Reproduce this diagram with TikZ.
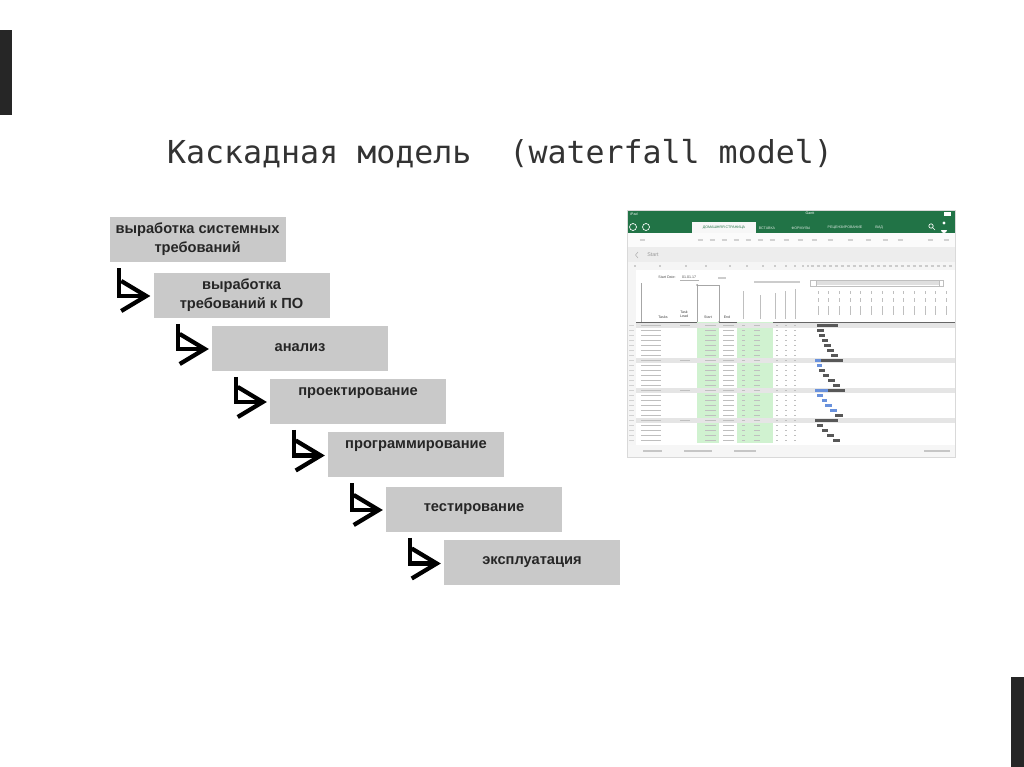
\documentclass[tikz,border=0pt]{standalone}
\usepackage{fontspec}
\setmainfont{Liberation Sans}
\newfontfamily\titlefont{DejaVu Sans Mono}
\usetikzlibrary{calc}

\definecolor{boxgray}{RGB}{201,201,201}
\definecolor{xlgreen}{RGB}{33,115,70}
\definecolor{cellgreen}{RGB}{208,242,208}
\definecolor{barblue}{RGB}{105,145,220}
\definecolor{bardark}{RGB}{88,88,88}

\tikzset{
  stage/.style={fill=boxgray, minimum width=132pt, minimum height=33.75pt, inner sep=0pt,
    align=center, text=black!85, font=\bfseries\fontsize{11}{14.25}\selectfont},
  stair/.style={line width=3.2pt, line join=miter},
  blur/.style={line width=0.9pt, gray!50},
  tiny/.style={inner sep=0pt, font=\fontsize{2.7}{3.2}\selectfont},
}

\begin{document}
\begin{tikzpicture}[x=0.75pt,y=-0.75pt]
\useasboundingbox (0,0) rectangle (1024,767);
% page edges
\fill[black!85] (0,30) rectangle (12,115);
\fill[black!85] (1011,677) rectangle (1024,767);

\node[font=\titlefont\fontsize{23.7}{28}\selectfont, text=black!80, inner sep=0pt] (title)
  at (500,154) {Каскадная модель~ (waterfall model)};

% stages
\node[stage] (b1) at (197.5,239.5) {выработка системных\\требований};
\node[stage] (b2) at (241.5,295) {выработка\\требований к ПО};
\node[stage] (b3) at (300,348) {анализ};
\node[stage] (b4) at (358,401) {проектирование\\\mbox{}};
\node[stage] (b5) at (416,454.5) {программирование\\\mbox{}};
\node[stage] (b6) at (474,509) {тестирование};
\node[stage] (b7) at (532,562.5) {эксплуатация};

% bent arrows
\foreach \i [count=\j from 2] in {1,...,6}{
  \coordinate (t\j) at ($(b\j.west)+(-7,1)$);
  \draw[stair] (b\i.south -| t\j) ++(-27,6) |- (t\j);
  \draw[stair] (t\j) ++(-25,-15) -- (t\j) -- ++(-25,15);
}

% spreadsheet screenshot
\fill[xlgreen] (627,210) rectangle (955,233);
\fill[gray!6] (692,222) rectangle (756,233);
\node[tiny, text=xlgreen] (home) at (724,228) {ДОМАШНЯЯ СТРАНИЦА};
\foreach \x/\t in {767/ВСТАВКА, 801/ФОРМУЛЫ, 845/РЕЦЕНЗИРОВАНИЕ, 879/ВИД}
  \node[tiny, text=white!85!xlgreen] (tab\x) at (\x,228) {\t};
\node[tiny, text=white] (ipad) at (634,214) {iPad};
\node[tiny, text=white] (gantt) at (810,213) {Gantt};
\draw[white, line width=0.5pt] (633,227) circle (3.5) (646,227) circle (3.5)
  (931,226) circle (2.2) (932.5,227.5) -- (935,230);
\fill[white] (944,212) rectangle (951,215.5);
\fill[white] (944,223) circle (1.6) (941,230) arc (180:0:3);
\fill[gray!3] (627,233) rectangle (955,247);
\foreach \x in {642,700,712,724,736,748,760,772,786,800,814,830,850,868,885,900,930,946}
  \draw[blur, gray!35] (\x-2.5,240) -- (\x+2.5,240);
\fill[gray!14] (627,247) rectangle (955,262);
\node[tiny, text=gray!80, font=\fontsize{4}{5}\selectfont] (sheet) at (653,255) {Start};
\draw[gray!60, line width=0.4pt] (638,252) -- (635.5,255) -- (638,258);
\fill[gray!8] (627,262) rectangle (955,270);
\foreach \x in {635,660,686,706,730,747,763,775,786,795,803,808}
  \draw[blur, gray!40] (\x-1,266) -- (\x+1,266);
\foreach \x in {812,818,...,952}
  \draw[blur, gray!40] (\x-1.5,266) -- (\x+1.5,266);
\fill[gray!8] (627,270) rectangle (636,445);

% sheet header
\node[tiny, text=black!70] (sdate) at (667,277) {Start Date:};
\node[tiny, text=black!70] (sval) at (689,277) {01.01.17};
\draw[gray!60, line width=0.3pt] (680,280) -- (699,280);
\draw[blur, gray!40] (718,278) -- (726,278);
\draw[gray!70, line width=0.4pt] (641,283) -- (641,322) (697,285) rectangle (719,322);
\fill[gray!80] (697,285) circle (1) (719,322) circle (1);
\draw[blur, gray!40] (754,282) -- (800,282);
\draw[gray!50, line width=0.4pt] (810,280) rectangle (943,286);
\fill[gray!25] (813,281) rectangle (940,285);
\fill[white] (810,280) rectangle (816,286);
\draw[gray!50, line width=0.4pt] (810,280) rectangle (816,286) (939,280) rectangle (943,286);
\node[tiny, text=black!75] (tasks) at (663,317) {Tasks};
\node[tiny, text=black!75, align=center] (lead) at (684,314) {Task\\Lead};
\node[tiny, text=black!75] (start) at (708,317) {Start};
\node[tiny, text=black!75] (end) at (727,317) {End};
\foreach \x/\l in {743/28, 760/24, 775/26, 785/28, 795/30}
  \draw[blur, line width=0.6pt] (\x,319) -- (\x,319-\l);
\foreach \x in {818,828.7,...,953}{
  \draw[blur, line width=0.6pt] (\x,291) -- (\x,294) (\x,298) -- (\x,302) (\x,306) -- (\x,315);
}
\draw[black!60, line width=0.6pt] (636,322) -- (955,322);

% rows
\fill[cellgreen] (697,322) rectangle (719,443);
\fill[cellgreen] (737,322) rectangle (773,443);
\foreach \r in {0,7,13,19}
  \fill[gray!20] (636,323+\r*5) rectangle (955,328+\r*5);
\foreach \r in {0,...,23}{
  \draw[blur, gray!35] (629,325.5+\r*5) -- (634,325.5+\r*5);
  \draw[blur] (641,325.5+\r*5) -- (661,325.5+\r*5);
  \draw[blur] (705,325.5+\r*5) -- (716,325.5+\r*5);
  \draw[blur] (723,325.5+\r*5) -- (734,325.5+\r*5);
  \draw[blur] (742,325.5+\r*5) -- (745,325.5+\r*5);
  \draw[blur] (754,325.5+\r*5) -- (760,325.5+\r*5);
  \draw[blur] (776,325.5+\r*5) -- (778,325.5+\r*5);
  \draw[blur] (785,325.5+\r*5) -- (787,325.5+\r*5);
  \draw[blur] (794,325.5+\r*5) -- (796,325.5+\r*5);
}
\foreach \r in {0,7,13,19}
  \draw[blur] (680,325.5+\r*5) -- (690,325.5+\r*5);

% gantt bars
\foreach \r/\a/\b/\c in {0/817/838/bardark, 1/817/824/bardark, 2/819/825/bardark,
    3/822/828/bardark, 4/824/831/bardark, 5/827/834/bardark, 6/831/838/bardark,
    7/815/843/bardark, 8/817/822/barblue, 9/819/825/bardark, 10/823/829/bardark,
    11/828/835/bardark, 12/833/840/bardark,
    13/815/845/bardark, 14/817/823/barblue, 15/822/827/barblue, 16/825/832/barblue,
    17/830/837/barblue, 18/835/843/bardark,
    19/815/838/bardark, 20/817/823/bardark, 21/822/828/bardark, 22/827/834/bardark,
    23/833/840/bardark}
  \fill[\c] (\a,323.8+\r*5) rectangle (\b,327.4+\r*5);
\fill[barblue] (815,358.8) rectangle (821,362.4);
\fill[barblue] (815,388.8) rectangle (828,392.4);

% sheet tabs
\fill[gray!7] (627,445) rectangle (955,457);
\foreach \a/\b in {643/662, 684/712, 734/756, 924/950}
  \draw[blur, gray!45] (\a,451) -- (\b,451);
\draw[gray!30, line width=0.4pt] (627,210) rectangle (955,457);
\end{tikzpicture}
\end{document}
